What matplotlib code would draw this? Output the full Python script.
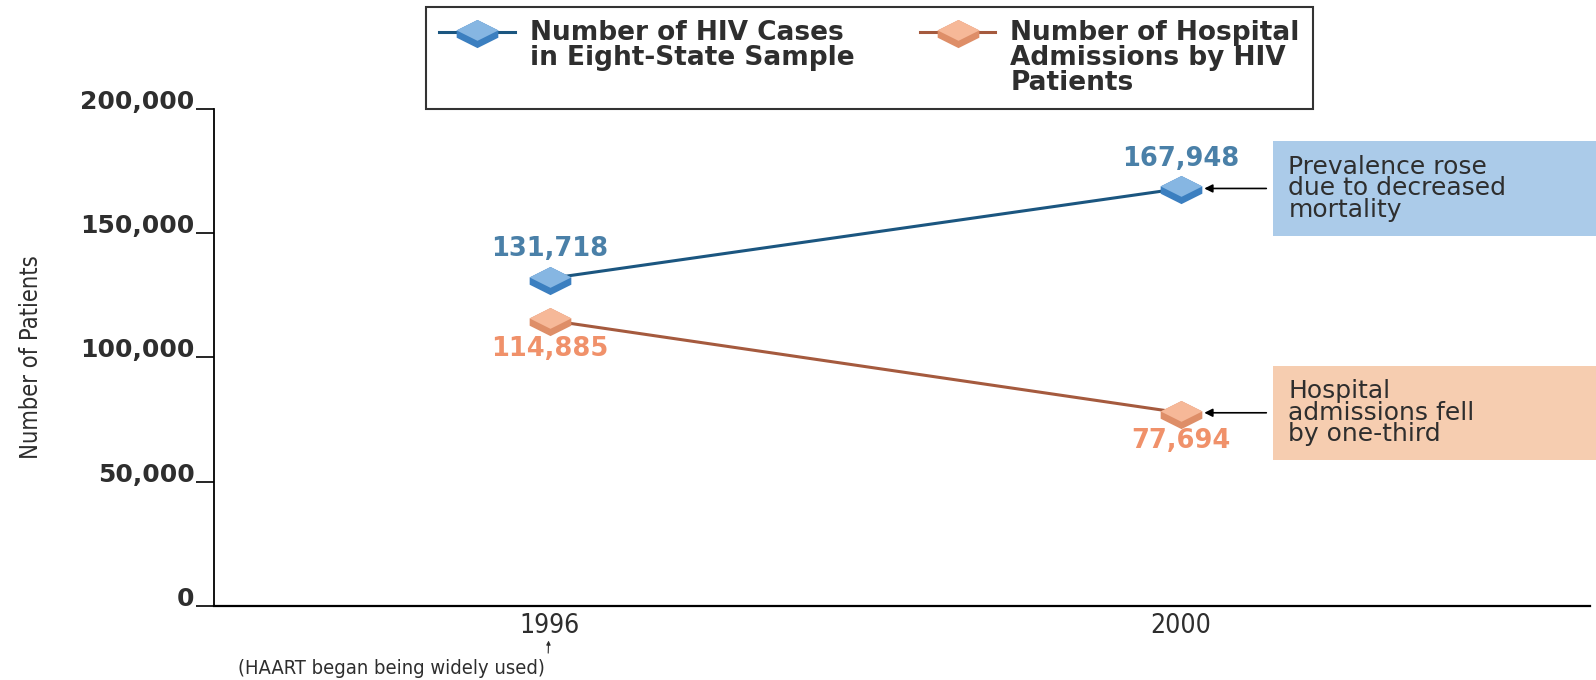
import matplotlib
matplotlib.use('Agg')
import numpy as np
import matplotlib.pyplot as plt
from matplotlib.patches import Rectangle
from matplotlib.lines import Line2D
from matplotlib.ticker import FuncFormatter
from matplotlib.legend_handler import HandlerLine2D, HandlerTuple

# data
years = ['1996', '2000']
hiv_cases = [131718, 167948]
admissions = [114885, 77694]
notes = ['Prevalence rose\ndue to decreased\nmortality',
         'Hospital\nadmissions fell\nby one-third']
yticks = [0, 50000, 100000, 150000, 200000]

BLUE_LINE = '#1b5680'
BLUE_TOP = '#86b6e2'
BLUE_SIDE = '#3b7fc0'
BLUE_LABEL = '#4a80a8'
BLUE_BOX = '#abcbe9'
ORANGE_LINE = '#a55a3e'
ORANGE_TOP = '#f6b898'
ORANGE_SIDE = '#de8e68'
ORANGE_LABEL = '#f0916a'
ORANGE_BOX = '#f6cdb0'
TEXT = '#2e2e2e'
NARROW = dict(family='DejaVu Sans', stretch='condensed')

# flattened 3d "tile" marker: a side face under a top face
TOP = [(-1, 0.1), (0, 0.6), (1, 0.1), (0, -0.4), (-1, 0.1)]
SIDE = [(-1, 0.1), (-1, -0.25), (0, -0.75), (1, -0.25), (1, 0.1), (0, 0.6), (-1, 0.1)]


class RaisedHandler(HandlerLine2D):
    # legend swatch sits on the first text line, not the middle one
    def create_artists(self, *args, **kwargs):
        arts = super().create_artists(*args, **kwargs)
        for a in arts:
            a.set_ydata(np.asarray(a.get_ydata()) + 19)
        return arts


fig = plt.figure(figsize=(15.96, 6.8), dpi=100)
ax = fig.add_axes([0.134, 0.109, 0.862, 0.731])
x = list(range(len(years)))


def draw_series(vals, line_c, side_c, top_c):
    ln, = ax.plot(x, vals, color=line_c, lw=2.2, zorder=3)
    sd, = ax.plot(x, vals, ls='none', marker=SIDE, ms=30, mfc=side_c,
                  mec='none', zorder=4)
    tp, = ax.plot(x, vals, ls='none', marker=TOP, ms=30, mfc=top_c,
                  mec='none', zorder=5)
    return (ln, sd, tp)


h1 = draw_series(hiv_cases, BLUE_LINE, BLUE_SIDE, BLUE_TOP)
h2 = draw_series(admissions, ORANGE_LINE, ORANGE_SIDE, ORANGE_TOP)

# value labels
for xi, v in zip(x, hiv_cases):
    ax.annotate(f'{v:,}', (xi, v), xytext=(0, 12), textcoords='offset points',
                ha='center', va='bottom', fontsize=18.5, fontweight='bold',
                color=BLUE_LABEL)
for xi, v in zip(x, admissions):
    ax.annotate(f'{v:,}', (xi, v), xytext=(0, -11), textcoords='offset points',
                ha='center', va='top', fontsize=18.5, fontweight='bold',
                color=ORANGE_LABEL)

# callout boxes on the right
for v, note, fc in [(hiv_cases[-1], notes[0], BLUE_BOX),
                    (admissions[-1], notes[1], ORANGE_BOX)]:
    ax.add_patch(Rectangle((0.7696, v - 19000), 0.235, 38000,
                           transform=ax.get_yaxis_transform(), fc=fc,
                           ec='none', clip_on=False, zorder=1))
    ax.text(0.781, v, note, transform=ax.get_yaxis_transform(), ha='left',
            va='center', fontsize=18, color=TEXT, linespacing=0.88, zorder=2)
    ax.annotate('', xy=(x[-1], v), xytext=(0.765, v),
                xycoords='data', textcoords=('axes fraction', 'data'),
                arrowprops=dict(arrowstyle='-|>', color='black', lw=1.2,
                                shrinkA=0, shrinkB=17, mutation_scale=12))

# axes
ax.set_xlim(-0.532, 1.648)
ax.set_ylim(0, 200000)
ax.set_yticks(yticks)
ax.yaxis.set_major_formatter(FuncFormatter(lambda v, p: f'{int(v):,}'))
for s in ['top', 'right']:
    ax.spines[s].set_visible(False)
ax.spines['left'].set_linewidth(1.3)
ax.spines['bottom'].set_linewidth(1.6)
ax.tick_params(axis='y', direction='out', length=13, width=1.2, pad=1,
               labelsize=18, labelcolor=TEXT)
for lbl in ax.get_yticklabels():
    lbl.set_fontweight('bold')
    lbl.set_va('baseline')
ax.set_xticks(x)
ax.set_xticklabels(years, fontsize=19, color=TEXT, **NARROW)
ax.tick_params(axis='x', length=0, pad=5)
ax.set_ylabel('Number of Patients', fontsize=17, color=TEXT, **NARROW)
ax.yaxis.set_label_coords(-0.124, 0.5)

# note under 1996
ax.annotate('', xy=(x[0], 0), xytext=(-1, -34), textcoords='offset points',
            arrowprops=dict(arrowstyle='-|>', lw=0.8, color=TEXT,
                            shrinkA=0, shrinkB=25, mutation_scale=6),
            annotation_clip=False)
fig.text(0.2455, 0.003, '(HAART began being widely used)', ha='center',
         va='bottom', fontsize=14.5, color=TEXT, **NARROW)

# legend
leg = ax.legend([h1, h2],
                ['Number of HIV Cases\nin Eight-State Sample\n',
                 'Number of Hospital\nAdmissions by HIV\nPatients'],
                handler_map={tuple: HandlerTuple(ndivide=1, pad=0),
                             Line2D: RaisedHandler()},
                ncol=2, loc='upper left', bbox_to_anchor=(0.267, 0.99),
                bbox_transform=fig.transFigure, frameon=True, fancybox=False,
                edgecolor='black', handlelength=2.85, columnspacing=2.5,
                borderpad=0.5, prop=dict(size=19, weight='bold'),
                labelspacing=0.2, handletextpad=0.57, borderaxespad=0)
leg.get_frame().set_linewidth(1.5)
for t in leg.get_texts():
    t.set_color(TEXT)
    t.set_linespacing(0.95)

fig.savefig('out.png', dpi=100, facecolor='white')
